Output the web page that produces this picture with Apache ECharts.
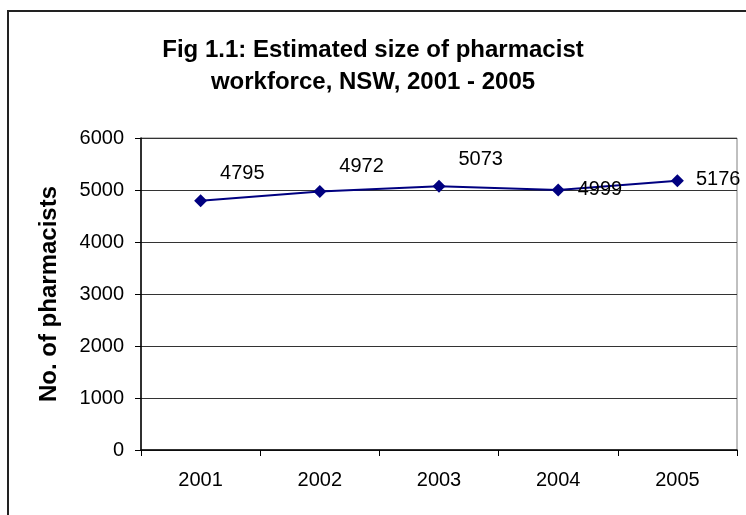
<!DOCTYPE html>
<html>
<head>
<meta charset="utf-8">
<title>Fig 1.1</title>
<script src="https://cdn.jsdelivr.net/npm/echarts@6/dist/echarts.min.js"></script>
<style>
  html, body {
    margin: 0;
    padding: 0;
    background: #ffffff;
  }
  #chart {
    width: 746px;
    height: 515px;
  }
</style>
</head>
<body>
<div id="chart"></div>
<script>
  // values
  var years = ['2001', '2002', '2003', '2004', '2005']
  var pharmacists = [4795, 4972, 5073, 4999, 5176]
  var yTicks = [0, 1000, 2000, 3000, 4000, 5000, 6000]

  var font = '"Liberation Sans", Arial, sans-serif'

  // where each value label sits next to its marker
  var labelShift = [[8, -27], [8, -25], [8, -27], [8, -1], [7, -1]]

  var option = {
    backgroundColor: '#ffffff',
    animation: false,
    title: {
      text: 'Fig 1.1: Estimated size of pharmacist\nworkforce, NSW, 2001 - 2005',
      left: 'center',
      top: 29,
      textStyle: {
        fontFamily: font,
        fontSize: 24,
        fontWeight: 'bold',
        color: '#000',
        lineHeight: 32
      }
    },
    graphic: [
      {
        type: 'rect',
        shape: {x: 8, y: 11, width: 760, height: 520},
        style: {fill: 'none', stroke: '#222', lineWidth: 2},
        silent: true
      }
    ],
    grid: {
      left: 141,
      right: 9,
      top: 138,
      bottom: 65,
      show: true,
      borderColor: '#808080',
      borderWidth: 1,
      backgroundColor: 'transparent'
    },
    xAxis: {
      type: 'category',
      data: years,
      boundaryGap: true,
      axisLine: {lineStyle: {color: '#000', width: 1.5}},
      axisTick: {show: true, inside: false, length: 6, alignWithLabel: false, lineStyle: {color: '#000'}},
      axisLabel: {
        margin: 20,
        color: '#000',
        fontFamily: font,
        fontSize: 20
      },
      splitLine: {show: false}
    },
    yAxis: {
      type: 'value',
      min: yTicks[0],
      max: yTicks[yTicks.length - 1],
      interval: yTicks[1] - yTicks[0],
      name: 'No. of pharmacists',
      nameLocation: 'middle',
      nameGap: 80,
      nameTextStyle: {
        fontFamily: font,
        fontSize: 24,
        fontWeight: 'bold',
        color: '#000'
      },
      axisLine: {show: true, lineStyle: {color: '#000', width: 1.5}},
      axisTick: {show: true, inside: false, length: 6, lineStyle: {color: '#000'}},
      axisLabel: {
        margin: 17,
        color: '#000',
        fontFamily: font,
        fontSize: 20,
        formatter: function (v) {
          return String(v)
        }
      },
      splitLine: {show: true, lineStyle: {color: '#333', width: 1}}
    },
    series: [
      {
        type: 'line',
        data: pharmacists.map(function (v, i) {
          return {
            value: v,
            label: {offset: labelShift[i]}
          }
        }),
        symbol: 'diamond',
        symbolSize: 13,
        lineStyle: {color: '#000080', width: 2},
        itemStyle: {color: '#000080'},
        label: {
          show: true,
          position: 'right',
          distance: 5,
          color: '#000',
          fontFamily: font,
          fontSize: 20
        }
      }
    ]
  }

  var chart = echarts.init(document.getElementById('chart'), null, {renderer: 'canvas'})
  chart.setOption(option)
</script>
</body>
</html>
